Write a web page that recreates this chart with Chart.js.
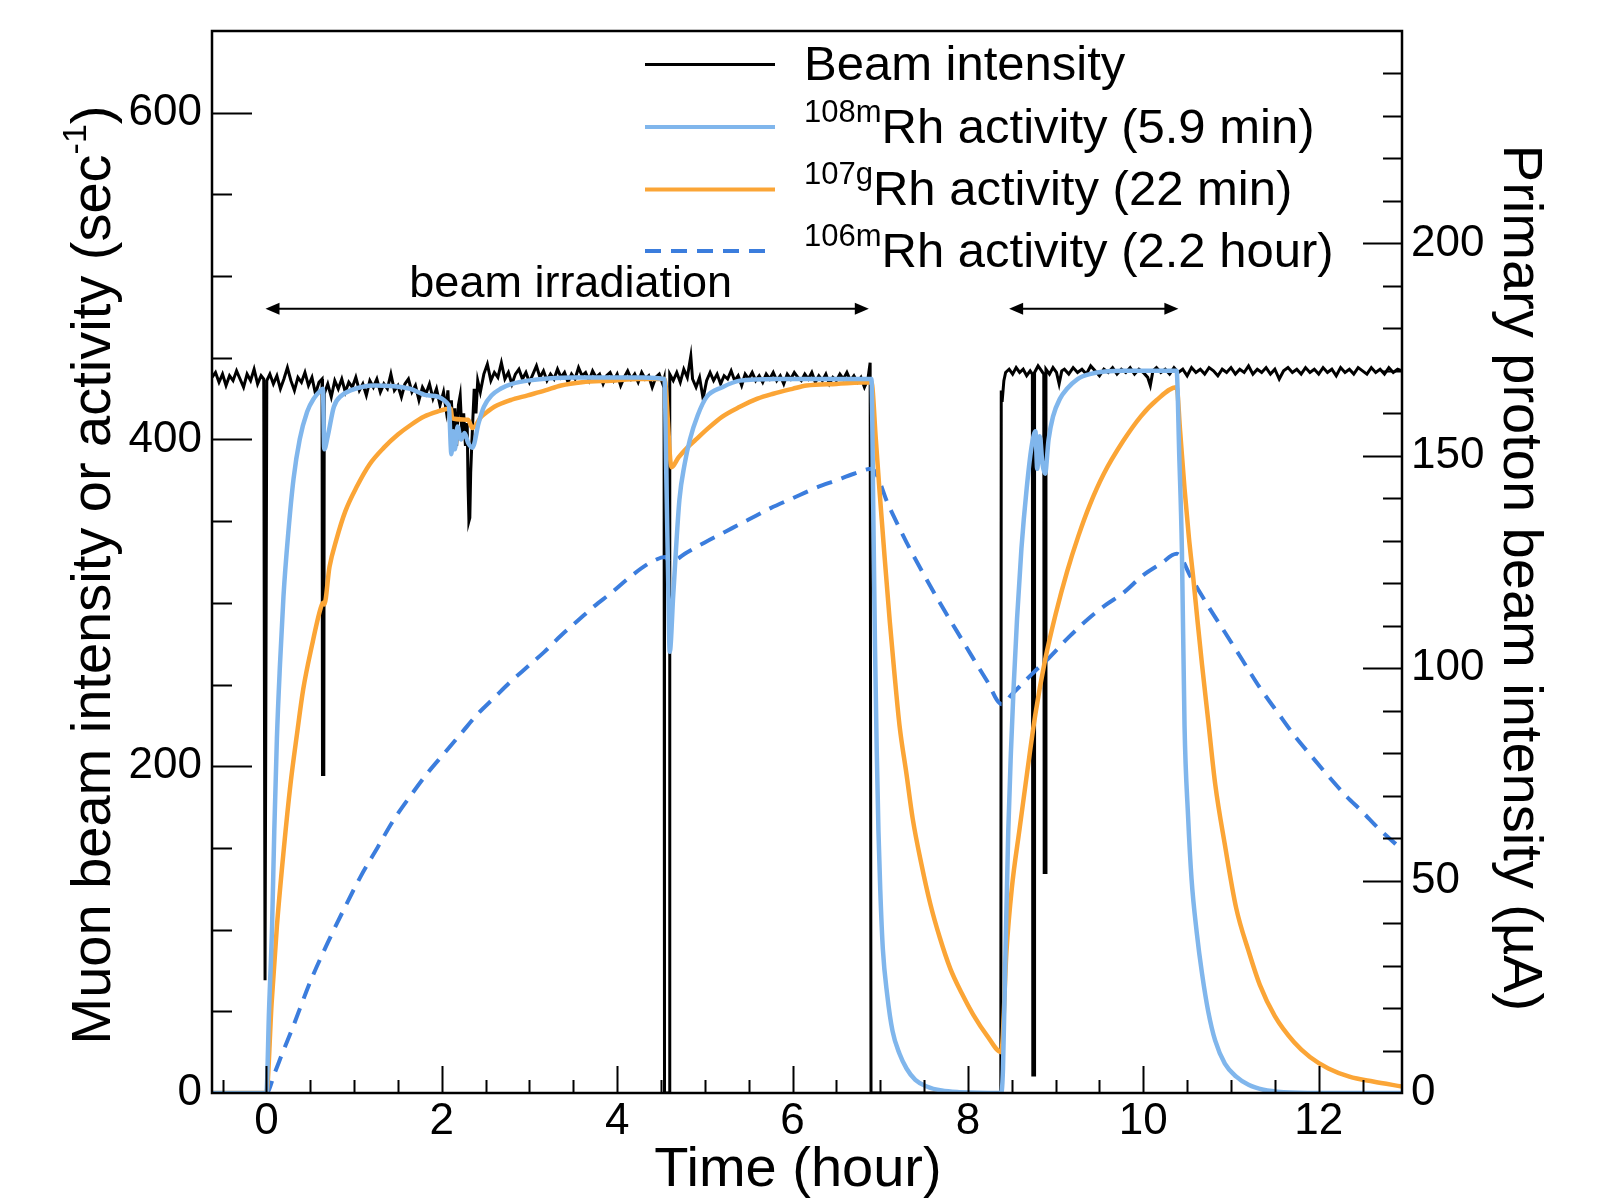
<!DOCTYPE html>
<html>
<head>
<meta charset="utf-8">
<title>Rh activity and beam intensity</title>
<script src="https://cdn.jsdelivr.net/npm/chart.js@4.4.1/dist/chart.umd.min.js"></script>
<style>
  html, body { margin: 0; padding: 0; background: #fff; }
  #chart { display: block; }
</style>
</head>
<body>
<canvas id="chart" width="1606" height="1198"></canvas>
<script>
// [time (hour), value (sec^-1)]
const beamIntensity = [
  [-0.62,438],[-0.58,441],[-0.54,435],[-0.5,440],[-0.46,433],[-0.42,439],[-0.38,436],[-0.34,442],[-0.3,437],[-0.26,432],[-0.22,440],[-0.18,436],[-0.14,443],[-0.1,434],[-0.06,439],[-0.03,437],
  [-0.015,69],[-0.005,69],[0.005,436],
  [0.04,440],[0.08,434],[0.12,439],[0.16,431],[0.2,437],[0.24,444],[0.28,436],[0.32,430],[0.36,438],[0.4,435],[0.44,441],[0.48,433],[0.52,438],[0.56,428],[0.6,435],[0.635,437],
  [0.64,195],[0.655,195],[0.66,428],
  [0.7,434],[0.74,426],[0.78,436],[0.82,431],[0.86,437],[0.9,429],[0.94,435],[0.98,432],[1.02,438],[1.06,430],[1.1,434],[1.14,427],[1.18,436],[1.22,432],[1.26,437],[1.3,429],[1.34,434],[1.38,431],[1.42,440],[1.46,430],[1.5,433],[1.54,426],[1.58,434],[1.62,437],[1.66,429],[1.7,433],[1.74,424],[1.78,432],[1.82,428],[1.86,434],[1.9,425],[1.94,431],[1.98,421],[2.02,429],
  [2.05,418],[2.07,430],[2.09,408],[2.11,424],[2.13,402],[2.15,419],[2.17,396],[2.19,421],[2.21,427],[2.23,404],[2.25,416],[2.27,396],[2.29,410],[2.3,372],[2.31,350],[2.32,352],[2.33,380],[2.35,407],[2.37,431],[2.39,416],[2.41,436],[2.44,429],
  [2.48,440],[2.52,446],[2.56,436],[2.6,441],[2.64,438],[2.68,447],[2.72,437],[2.76,441],[2.8,434],[2.84,440],[2.88,443],[2.92,437],[2.96,441],[3.0,435],[3.04,440],[3.08,445],[3.12,438],[3.16,442],[3.2,436],[3.24,440],[3.28,437],[3.32,443],[3.36,438],[3.4,441],[3.44,435],[3.48,440],[3.52,437],[3.56,444],[3.6,439],[3.64,441],[3.68,436],[3.72,442],[3.76,438],[3.8,440],[3.84,434],[3.88,439],[3.92,441],[3.96,436],[4.0,440],[4.04,433],[4.08,438],[4.12,442],[4.16,437],[4.2,440],[4.24,435],[4.28,441],[4.32,437],[4.36,439],[4.4,432],[4.44,438],[4.48,440],[4.52,434],[4.535,437],
  [4.54,0],[4.595,0],[4.6,440],
  [4.64,436],[4.68,441],[4.72,435],[4.76,443],[4.8,438],[4.84,451],[4.86,437],[4.9,432],[4.94,438],[4.98,425],[5.02,436],[5.06,441],[5.1,436],[5.14,440],[5.18,434],[5.22,439],[5.26,437],[5.3,442],[5.34,436],[5.38,439],[5.42,433],[5.46,440],[5.5,437],[5.54,441],[5.58,436],[5.62,439],[5.66,435],[5.7,440],[5.74,437],[5.78,441],[5.82,436],[5.86,439],[5.9,434],[5.94,440],[5.98,437],[6.02,441],[6.06,438],[6.1,436],[6.14,440],[6.18,437],[6.22,441],[6.26,435],[6.3,439],[6.34,436],[6.38,440],[6.42,434],[6.46,438],[6.5,436],[6.54,440],[6.58,437],[6.62,441],[6.66,436],[6.7,439],[6.74,435],[6.78,438],[6.82,432],[6.86,437],[6.885,447],
  [6.895,0],[8.375,0],[8.38,430],[8.39,423],[8.41,436],[8.43,441],
  [8.47,443],[8.51,440],[8.55,444],[8.59,441],[8.63,443],[8.67,439],[8.71,442],[8.735,440],
  [8.74,11],[8.755,11],[8.76,441],[8.8,445],[8.84,442],[8.865,440],[8.87,135],[8.885,135],[8.89,443],
  [8.93,440],[8.97,444],[9.01,441],[9.04,434],[9.07,442],[9.1,443],[9.15,440],[9.2,444],[9.25,441],[9.3,443],[9.35,440],[9.4,445],[9.45,442],[9.5,439],[9.55,443],[9.6,441],[9.65,444],[9.7,440],[9.75,443],[9.8,441],[9.85,444],[9.9,440],[9.95,443],[10.0,441],[10.05,438],[10.08,433],[10.11,442],[10.15,444],[10.2,441],[10.25,443],[10.3,440],[10.35,444],[10.4,441],[10.45,443],[10.5,439],[10.55,444],[10.6,441],[10.65,443],[10.7,440],[10.75,444],[10.8,442],[10.85,439],[10.9,443],[10.95,441],[11.0,444],[11.05,440],[11.1,443],[11.15,441],[11.2,445],[11.25,440],[11.3,443],[11.35,441],[11.4,444],[11.45,440],[11.5,443],[11.55,437],[11.6,442],[11.65,444],[11.7,441],[11.75,443],[11.8,440],[11.85,444],[11.9,441],[11.95,443],[12.0,440],[12.05,444],[12.1,441],[12.15,443],[12.2,439],[12.25,444],[12.3,441],[12.35,443],[12.4,440],[12.45,444],[12.5,442],[12.55,440],[12.6,444],[12.65,441],[12.7,443],[12.75,440],[12.8,444],[12.85,441],[12.9,443],[12.95,442]
];

const rh108m = [
  [-0.62,0],[0,0],[0.03,50],[0.065,102],[0.09,160],[0.12,217],[0.155,262],[0.195,304],[0.25,343],[0.31,376],[0.38,400],[0.465,417],[0.54,425],[0.62,430],[0.645,431],
  [0.66,394],[0.7,402],[0.77,420],[0.86,427],[0.96,430],[1.23,433],[1.64,431],[1.84,427],
  [2.08,421],[2.11,391],[2.13,405],[2.15,394],[2.18,408],[2.22,400],[2.26,404],[2.3,398],[2.35,395],[2.42,410],[2.48,420],[2.57,427],[2.67,431],[2.8,434],[2.98,436],[3.5,438],[3.93,438],[4.3,438],[4.54,437],
  [4.56,380],[4.58,320],[4.6,270],[4.64,305],[4.71,363],[4.77,385],[4.83,400],[4.92,415],[5.02,426],[5.2,432],[5.4,436],[5.8,437],[6.4,437],[6.9,437],
  [6.92,360],[6.94,275],[6.96,210],[6.98,160],[7.0,125],[7.03,88],[7.08,60],[7.14,38],[7.22,24],[7.3,15],[7.4,8],[7.53,4],[7.7,1.5],[7.9,0.5],[8.38,0],
  [8.4,15],[8.43,90],[8.46,160],[8.49,208],[8.52,247],[8.56,290],[8.61,333],[8.67,370],[8.73,397],[8.77,405],[8.79,382],[8.82,402],[8.85,385],[8.88,379],[8.92,400],[8.97,414],[9.05,425],[9.13,431],[9.25,437],[9.39,440],[9.77,442],[10.38,442],
  [10.41,390],[10.44,333],[10.47,225],[10.51,170],[10.55,131],[10.61,98],[10.67,73],[10.74,50],[10.82,32],[10.93,18],[11.06,10],[11.2,5],[11.37,2],[11.6,0.5],[12.0,0],[12.95,0]
];

const rh107g = [
  [-0.62,0],[0,0],[0.06,55],[0.12,102],[0.2,150],[0.275,189],[0.35,220],[0.42,247],[0.52,274],[0.615,296],[0.645,300],
  [0.66,299],[0.72,322],[0.8,339],[0.9,356],[1.03,371],[1.18,385],[1.34,395],[1.5,403],[1.65,409],[1.8,414],[1.95,417],[2.1,419],
  [2.12,413],[2.3,412],[2.35,407],[2.45,414],[2.52,417],[2.6,420],[2.78,424],[2.98,427],[3.18,430],[3.36,433],[3.6,435],[3.93,436],[4.25,437],[4.54,437],
  [4.62,383],[4.7,389],[4.8,395],[4.9,400],[5.02,406],[5.2,414],[5.4,420],[5.6,425],[5.78,428],[6.0,431],[6.16,433],[6.5,434],[6.9,435],
  [6.95,400],[6.99,370],[7.05,328],[7.11,288],[7.16,258],[7.22,225],[7.3,195],[7.37,168],[7.47,140],[7.57,116],[7.68,95],[7.8,76],[7.93,61],[8.06,48],[8.22,35],[8.38,25],
  [8.44,87],[8.5,125],[8.59,162],[8.68,198],[8.77,232],[8.88,265],[9.0,293],[9.13,319],[9.26,341],[9.39,360],[9.55,379],[9.77,399],[9.97,414],[10.15,424],[10.38,432],
  [10.42,405],[10.47,370],[10.52,340],[10.57,315],[10.62,288],[10.67,262],[10.74,228],[10.82,189],[10.93,152],[11.06,113],[11.2,87],[11.33,66],[11.5,47],[11.72,31],[11.9,22],[12.11,15],[12.35,10],[12.62,7],[12.95,4]
];

const rh106m = [
  [-0.62,0],[0,0],[0.1,13],[0.18,24],[0.3,40],[0.5,68],[0.7,92],[0.88,112],[1.07,132],[1.265,150],[1.45,167],[1.645,182],[1.84,196],[2.03,208],[2.22,220],[2.41,232],[2.6,242],[2.79,252],[2.98,261],[3.17,270],[3.36,280],[3.55,289],[3.74,298],[3.93,306],[4.15,316],[4.39,325],[4.55,328],
  [4.6,325],[4.8,331],[5.0,337],[5.25,344],[5.5,351],[5.75,358],[6.0,364],[6.25,370],[6.5,375],[6.7,379],[6.9,382],
  [7.1,359],[7.3,337],[7.5,317],[7.68,300],[7.87,283],[8.06,266],[8.22,252],[8.385,238],
  [8.5,244],[8.63,251],[8.76,258],[8.9,265],[9.15,279],[9.39,291],[9.58,299],[9.77,306],[10.0,317],[10.2,324],[10.38,330],
  [10.55,315],[10.74,298],[10.93,282],[11.13,265],[11.33,248],[11.53,233],[11.72,219],[11.92,206],[12.11,194],[12.31,182],[12.5,172],[12.7,161],[12.95,149]
];

const xRange = [-0.62, 12.95];
const yRange = [0, 650];
const y2Range = [0, 250];
const xLabels = [0, 2, 4, 6, 8, 10, 12];
const yLabels = [0, 200, 400, 600];
const y2Labels = [0, 50, 100, 150, 200];

const legendNames = [
  { sup: '', main: 'Beam intensity' },
  { sup: '108m', main: 'Rh activity (5.9 min)' },
  { sup: '107g', main: 'Rh activity (22 min)' },
  { sup: '106m', main: 'Rh activity (2.2 hour)' }
];

// irradiation periods marked with arrows [from, to] in hours
const irradiationArrows = [[-0.01, 6.87], [8.47, 10.4]];

const BLACK = '#000000';
const LIGHT_BLUE = '#80b6ec';
const ORANGE = '#fba536';
const DARK_BLUE = '#3b7ddd';
const FONT = '"Liberation Sans", Arial, Helvetica, sans-serif';

function toXY(list) {
    return list.map(p => ({ x: p[0], y: p[1] }));
}

function font(size) {
    return `${size}px ${FONT}`;
}

// draw a run of text pieces, some raised as superscripts
function drawParts(ctx, parts, x, y, align) {
    let total = 0;
    for (const p of parts) {
        ctx.font = font(p.size);
        p.w = ctx.measureText(p.text).width;
        total += p.w;
    }
    let cx = align === 'center' ? x - total / 2 : x;
    for (const p of parts) {
        ctx.font = font(p.size);
        ctx.fillText(p.text, cx, y - (p.rise || 0));
        cx += p.w;
    }
}

function arrowHead(ctx, x, y, dir) {
    ctx.beginPath();
    ctx.moveTo(x, y);
    ctx.lineTo(x - dir * 14, y - 6);
    ctx.lineTo(x - dir * 14, y + 6);
    ctx.closePath();
    ctx.fill();
}

// keep the plot frame exactly where the original puts it
function fixBox(size, key) {
    return s => {
        s[key] = size;
        s.paddingTop = 0;
        s.paddingBottom = 0;
        s.paddingLeft = 0;
        s.paddingRight = 0;
    };
}

const decorations = {
    id: 'decorations',
    afterDraw(chart) {
        const { ctx, chartArea: area } = chart;
        const sx = chart.scales.x;
        const sy = chart.scales.y;
        const sy2 = chart.scales.y2;
        ctx.save();
        ctx.strokeStyle = BLACK;
        ctx.fillStyle = BLACK;

        // inside tick marks
        ctx.lineWidth = 2;
        ctx.beginPath();
        for (let v = -0.5; v <= 12.5; v += 0.5) {
            const px = Math.round(sx.getPixelForValue(v)) + 0.5;
            const len = Math.abs(v % 2) < 1e-6 ? 27 : 13;
            ctx.moveTo(px, area.bottom);
            ctx.lineTo(px, area.bottom - len);
        }
        for (let v = 50; v <= 600; v += 50) {
            const py = Math.round(sy.getPixelForValue(v)) + 0.5;
            const len = v % 200 === 0 ? 40 : 20;
            ctx.moveTo(area.left, py);
            ctx.lineTo(area.left + len, py);
        }
        for (let v = 10; v <= 240; v += 10) {
            const py = Math.round(sy2.getPixelForValue(v)) + 0.5;
            const len = v % 50 === 0 ? 39 : 19;
            ctx.moveTo(area.right, py);
            ctx.lineTo(area.right - len, py);
        }
        ctx.stroke();

        // frame
        ctx.lineWidth = 2.5;
        ctx.strokeRect(area.left, area.top, area.right - area.left, area.bottom - area.top);

        // axis titles
        ctx.textBaseline = 'alphabetic';
        drawParts(ctx, [{ text: 'Time (hour)', size: 56 }], 798, 1186, 'center');

        ctx.save();
        ctx.translate(110, 575);
        ctx.rotate(-Math.PI / 2);
        drawParts(ctx, [
            { text: 'Muon beam intensity or activity (sec', size: 56 },
            { text: '-1', size: 34, rise: 24 },
            { text: ')', size: 56 }
        ], 0, 0, 'center');
        ctx.restore();

        ctx.save();
        ctx.translate(1504, 578);
        ctx.rotate(Math.PI / 2);
        drawParts(ctx, [{ text: 'Primary proton beam intensity (\u00b5A)', size: 56 }], 0, 0, 'center');
        ctx.restore();

        // irradiation arrows
        ctx.lineWidth = 2;
        const ay = sy.getPixelForValue(480);
        for (const [a, b] of irradiationArrows) {
            const x1 = sx.getPixelForValue(a);
            const x2 = sx.getPixelForValue(b);
            ctx.beginPath();
            ctx.moveTo(x1 + 8, ay);
            ctx.lineTo(x2 - 8, ay);
            ctx.stroke();
            arrowHead(ctx, x1, ay, -1);
            arrowHead(ctx, x2, ay, 1);
        }
        drawParts(ctx, [{ text: 'beam irradiation', size: 45 }], sx.getPixelForValue(3.47), sy.getPixelForValue(487), 'center');

        // legend
        const styles = chart.data.datasets;
        const rowY = [64.5, 127, 189.5, 251];
        legendNames.forEach((entry, i) => {
            const ds = styles[i];
            ctx.save();
            ctx.strokeStyle = ds.borderColor;
            ctx.lineWidth = Math.min(ds.borderWidth, 4);
            ctx.setLineDash(ds.borderDash || []);
            ctx.beginPath();
            ctx.moveTo(645, rowY[i]);
            ctx.lineTo(775, rowY[i]);
            ctx.stroke();
            ctx.restore();
            const parts = [];
            if (entry.sup) parts.push({ text: entry.sup, size: 31, rise: 21 });
            parts.push({ text: entry.main, size: 49 });
            drawParts(ctx, parts, 804, rowY[i] + 15.5, 'left');
        });

        ctx.restore();
    }
};

const tickFont = { family: FONT, size: 44 };

new Chart(document.getElementById('chart'), {
    type: 'line',
    data: {
        datasets: [
            { label: 'Beam intensity', data: toXY(beamIntensity), borderColor: BLACK, borderWidth: 3, tension: 0, order: 4 },
            { label: '108mRh activity (5.9 min)', data: toXY(rh108m), borderColor: LIGHT_BLUE, borderWidth: 4.5, cubicInterpolationMode: 'monotone', order: 1 },
            { label: '107gRh activity (22 min)', data: toXY(rh107g), borderColor: ORANGE, borderWidth: 4.5, cubicInterpolationMode: 'monotone', order: 2 },
            { label: '106mRh activity (2.2 hour)', data: toXY(rh106m), borderColor: DARK_BLUE, borderWidth: 4, borderDash: [16, 10], cubicInterpolationMode: 'monotone', order: 3 }
        ]
    },
    options: {
        responsive: false,
        animation: false,
        devicePixelRatio: 1,
        parsing: false,
        layout: { padding: { top: 31, left: 0, right: 0, bottom: 0 } },
        elements: { point: { radius: 0, hoverRadius: 0 }, line: { fill: false } },
        plugins: { legend: { display: false }, tooltip: { enabled: false } },
        scales: {
            x: {
                type: 'linear',
                min: xRange[0],
                max: xRange[1],
                grid: { display: false, drawTicks: false },
                border: { display: false },
                ticks: { font: tickFont, color: BLACK, padding: 2, maxRotation: 0 },
                afterBuildTicks: s => { s.ticks = xLabels.map(v => ({ value: v })); },
                afterFit: fixBox(105, 'height')
            },
            y: {
                type: 'linear',
                position: 'left',
                min: yRange[0],
                max: yRange[1],
                grid: { display: false, drawTicks: false },
                border: { display: false },
                ticks: { font: tickFont, color: BLACK, padding: 10 },
                afterBuildTicks: s => { s.ticks = yLabels.map(v => ({ value: v })); },
                afterFit: fixBox(212, 'width')
            },
            y2: {
                type: 'linear',
                position: 'right',
                min: y2Range[0],
                max: y2Range[1],
                grid: { display: false, drawTicks: false },
                border: { display: false },
                ticks: { font: tickFont, color: BLACK, padding: 9 },
                afterBuildTicks: s => { s.ticks = y2Labels.map(v => ({ value: v })); },
                afterFit: fixBox(204, 'width')
            }
        }
    },
    plugins: [decorations]
});
</script>
</body>
</html>
